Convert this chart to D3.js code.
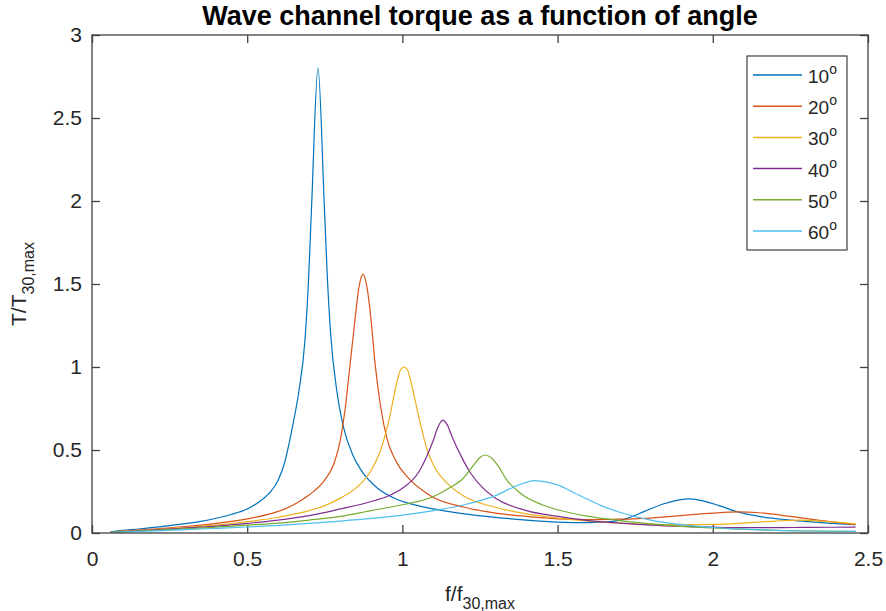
<!DOCTYPE html>
<html>
<head>
<meta charset="utf-8">
<script src="https://cdn.jsdelivr.net/npm/d3@7"></script>
<style>
    body { margin: 0; background: #fff; }
    svg { font-family: "Liberation Sans", Arial, sans-serif; }
</style>
</head>
<body>
<svg id="chart"></svg>
<script>
// data, [f/f30max, T/T30max]
const angles = ['10', '20', '30', '40', '50', '60'];
const lineColors = ['#0072BD', '#D95319', '#EDB120', '#7E2F8E', '#77AC30', '#4DBEEE'];
const xTicks = [0, 0.5, 1, 1.5, 2, 2.5];
const yTicks = [0, 0.5, 1, 1.5, 2, 2.5, 3];

const series10 = [[0.06,0.008],[0.1,0.016],[0.15,0.024],[0.2,0.034],[0.25,0.044],[0.3,0.056],[0.35,0.07],
    [0.4,0.089],[0.45,0.113],[0.5,0.145],[0.54,0.19],[0.58,0.26],[0.6,0.32],[0.62,0.42],[0.635,0.54],
    [0.648,0.66],[0.667,0.86],[0.686,1.16],[0.697,1.5],[0.7075,1.97],[0.728,2.8],[0.7485,1.97],
    [0.758,1.55],[0.768,1.22],[0.79,0.84],[0.81,0.64],[0.84,0.47],[0.87,0.37],[0.92,0.27],
    [0.98,0.205],[1.05,0.165],[1.1,0.145],[1.2,0.115],[1.3,0.094],[1.4,0.078],[1.5,0.066],
    [1.6,0.062],[1.65,0.065],[1.72,0.085],[1.78,0.13],[1.84,0.175],[1.88,0.195],[1.92,0.205],
    [1.96,0.197],[2.02,0.165],[2.08,0.127],[2.15,0.1],[2.25,0.078],[2.35,0.062],[2.46,0.05]];
const series20 = [[0.06,0.007],[0.1,0.012],[0.2,0.024],[0.3,0.039],[0.4,0.058],[0.5,0.085],[0.6,0.13],
    [0.65,0.17],[0.7,0.23],[0.75,0.32],[0.78,0.42],[0.8,0.56],[0.815,0.74],[0.826,0.92],[0.846,1.265],
    [0.86,1.48],[0.873,1.56],[0.886,1.48],[0.9,1.265],[0.912,1.02],[0.93,0.76],[0.95,0.57],[0.98,0.43],
    [1.02,0.33],[1.09,0.225],[1.2,0.155],[1.3,0.12],[1.4,0.1],[1.5,0.085],[1.6,0.08],[1.7,0.083],
    [1.8,0.09],[1.9,0.105],[2.0,0.12],[2.08,0.127],[2.15,0.122],[2.25,0.1],[2.35,0.075],[2.46,0.05]];
const series30 = [[0.06,0.006],[0.1,0.01],[0.2,0.021],[0.3,0.033],[0.4,0.047],[0.5,0.068],[0.6,0.095],
    [0.7,0.135],[0.75,0.165],[0.8,0.21],[0.85,0.27],[0.9,0.38],[0.93,0.5],[0.958,0.69],[0.98,0.89],
    [0.992,0.975],[1.005,1.0],[1.018,0.975],[1.03,0.89],[1.054,0.69],[1.08,0.5],[1.1,0.41],[1.15,0.29],
    [1.2,0.22],[1.3,0.155],[1.4,0.115],[1.5,0.09],[1.6,0.072],[1.7,0.06],[1.8,0.052],[1.9,0.05],
    [2.0,0.052],[2.1,0.06],[2.2,0.072],[2.28,0.078],[2.35,0.072],[2.46,0.055]];
const series40 = [[0.06,0.005],[0.1,0.009],[0.2,0.019],[0.3,0.03],[0.4,0.042],[0.5,0.058],[0.6,0.078],
    [0.7,0.105],[0.8,0.145],[0.9,0.19],[0.95,0.22],[1.0,0.27],[1.05,0.36],[1.078,0.46],[1.1,0.56],
    [1.115,0.64],[1.13,0.68],[1.145,0.65],[1.16,0.58],[1.19,0.46],[1.22,0.36],[1.26,0.27],[1.3,0.21],
    [1.4,0.135],[1.5,0.1],[1.6,0.075],[1.7,0.06],[1.8,0.048],[1.9,0.04],[2.0,0.035],[2.1,0.032],
    [2.2,0.032],[2.3,0.034],[2.46,0.035]];
const series50 = [[0.06,0.005],[0.1,0.008],[0.2,0.016],[0.3,0.025],[0.4,0.035],[0.5,0.047],[0.6,0.06],
    [0.7,0.078],[0.8,0.1],[0.9,0.135],[1.0,0.17],[1.1,0.22],[1.15,0.27],[1.196,0.33],[1.23,0.41],
    [1.25,0.455],[1.266,0.47],[1.285,0.455],[1.31,0.4],[1.336,0.32],[1.38,0.24],[1.45,0.17],[1.5,0.14],
    [1.6,0.1],[1.7,0.075],[1.8,0.055],[1.9,0.04],[2.0,0.03],[2.1,0.022],[2.2,0.016],[2.3,0.012],
    [2.46,0.01]];
const series60 = [[0.06,0.004],[0.1,0.007],[0.2,0.013],[0.3,0.02],[0.4,0.028],[0.5,0.036],[0.6,0.046],
    [0.7,0.058],[0.8,0.072],[0.9,0.088],[1.0,0.108],[1.1,0.135],[1.2,0.17],[1.25,0.195],[1.3,0.225],
    [1.35,0.27],[1.39,0.3],[1.427,0.315],[1.47,0.305],[1.5,0.29],[1.54,0.255],[1.6,0.2],[1.64,0.165],
    [1.7,0.125],[1.8,0.078],[1.9,0.05],[2.0,0.033],[2.1,0.023],[2.2,0.016],[2.3,0.012],[2.46,0.01]];

const allSeries = [series10, series20, series30, series40, series50, series60];

class TorqueChart {

    constructor(_config) {
        this.config = {
            parentElement: _config.parentElement,
            containerWidth: 886,
            containerHeight: 611,
            margin: { top: 35, bottom: 78, right: 18, left: 92 }
        };
        this.initVis();
    }

    initVis() {
        let vis = this;

        vis.width = vis.config.containerWidth - vis.config.margin.left - vis.config.margin.right;
        vis.height = vis.config.containerHeight - vis.config.margin.top - vis.config.margin.bottom;

        vis.svg = d3.select(vis.config.parentElement)
            .attr('width', vis.config.containerWidth)
            .attr('height', vis.config.containerHeight);

        vis.chart = vis.svg.append('g')
            .attr('transform', `translate(${vis.config.margin.left},${vis.config.margin.top})`);

        vis.xScale = d3.scaleLinear().domain([0, 2.5]).range([0, vis.width]);
        vis.yScale = d3.scaleLinear().domain([0, 3]).range([vis.height, 0]);

        const axisColor = '#404040';
        const fmt = d3.format('~g');

        // ticks point inward, like matlab
        const xAxis = d3.axisBottom(vis.xScale).tickValues(xTicks).tickFormat(fmt)
            .tickSizeInner(-8).tickSizeOuter(0).tickPadding(18);
        const yAxis = d3.axisLeft(vis.yScale).tickValues(yTicks).tickFormat(fmt)
            .tickSizeInner(-8).tickSizeOuter(0).tickPadding(10);
        const xTop = d3.axisTop(vis.xScale).tickValues(xTicks).tickFormat('')
            .tickSizeInner(-8).tickSizeOuter(0);
        const yRight = d3.axisRight(vis.yScale).tickValues(yTicks).tickFormat('')
            .tickSizeInner(-8).tickSizeOuter(0);

        vis.chart.append('g').attr('transform', `translate(0,${vis.height})`).call(xAxis);
        vis.chart.append('g').call(yAxis);
        vis.chart.append('g').call(xTop);
        vis.chart.append('g').attr('transform', `translate(${vis.width},0)`).call(yRight);

        vis.chart.selectAll('.domain').remove();
        vis.chart.selectAll('.tick line').attr('stroke', axisColor).attr('stroke-width', 1.3);
        vis.chart.selectAll('.tick text')
            .attr('fill', '#262626')
            .style('font-size', '21px');

        // clip so nothing leaks out of the box
        vis.chart.append('clipPath').attr('id', 'plotClip')
            .append('rect').attr('width', vis.width).attr('height', vis.height);

        const line = d3.line()
            .x(d => vis.xScale(d[0]))
            .y(d => vis.yScale(d[1]))
            .curve(d3.curveMonotoneX);

        vis.chart.append('g')
            .attr('clip-path', 'url(#plotClip)')
            .selectAll('path')
            .data(allSeries)
            .join('path')
            .attr('d', d => line(d))
            .attr('fill', 'none')
            .attr('stroke', (d, i) => lineColors[i])
            .attr('stroke-width', 1.2);

        // box
        vis.chart.append('rect')
            .attr('width', vis.width)
            .attr('height', vis.height)
            .attr('fill', 'none')
            .attr('stroke', axisColor)
            .attr('stroke-width', 1.3);

        // title
        vis.svg.append('text')
            .attr('x', vis.config.margin.left + vis.width / 2)
            .attr('y', 25)
            .attr('text-anchor', 'middle')
            .style('font-size', '27px')
            .style('font-weight', 'bold')
            .attr('fill', '#000')
            .text('Wave channel torque as a function of angle');

        // x label
        let xl = vis.svg.append('text')
            .attr('x', vis.config.margin.left + vis.width / 2)
            .attr('y', 601)
            .attr('text-anchor', 'middle')
            .attr('fill', '#262626')
            .style('font-size', '21px');
        xl.append('tspan').text('f/f');
        xl.append('tspan').attr('dy', 8).style('font-size', '16px').text('30,max');

        // y label
        let yl = vis.svg.append('text')
            .attr('transform', `translate(26,${vis.config.margin.top + vis.height / 2}) rotate(-90)`)
            .attr('text-anchor', 'middle')
            .attr('fill', '#262626')
            .style('font-size', '21px');
        yl.append('tspan').text('T/T');
        yl.append('tspan').attr('dy', 8).style('font-size', '16px').text('30,max');

        // legend
        const legend = vis.svg.append('g').attr('transform', 'translate(747,56)');
        legend.append('rect')
            .attr('width', 100)
            .attr('height', 194)
            .attr('fill', '#fff')
            .attr('stroke', axisColor)
            .attr('stroke-width', 1.2);

        const rows = legend.selectAll('g.row')
            .data(angles)
            .join('g')
            .attr('class', 'row')
            .attr('transform', (d, i) => `translate(0,${19 + i * 31.2})`);

        rows.append('line')
            .attr('x1', 6).attr('x2', 55)
            .attr('stroke', (d, i) => lineColors[i])
            .attr('stroke-width', 1.5);

        let lt = rows.append('text')
            .attr('x', 61)
            .attr('y', 8)
            .attr('fill', '#262626')
            .style('font-size', '19px');
        lt.append('tspan').text(d => d);
        lt.append('tspan').attr('dy', -9).style('font-size', '14px').text('o');
    }
}

new TorqueChart({ parentElement: '#chart' });
</script>
</body>
</html>
